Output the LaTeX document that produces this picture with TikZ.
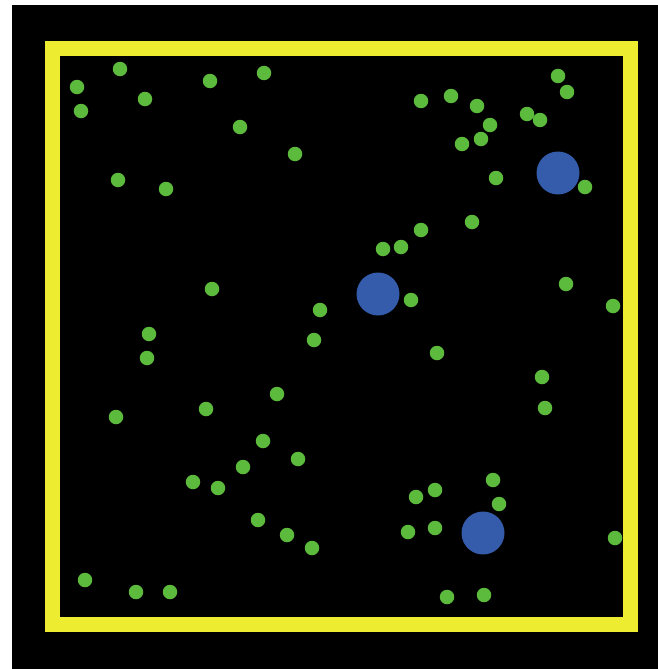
\documentclass[tikz,border=0pt]{standalone}
\definecolor{frameyellow}{RGB}{238,236,48}
\definecolor{dotgreen}{RGB}{92,186,60}
\definecolor{bigblue}{RGB}{52,92,170}
\tikzset{
  smalldot/.style={circle,fill=dotgreen,inner sep=0pt,minimum size=14.5pt},
  bigdot/.style={circle,fill=bigblue,inner sep=0pt,minimum size=43pt}
}
\begin{document}
\begin{tikzpicture}[x=1pt,y=-1pt]
  \useasboundingbox (0,0) rectangle (658,669);
  \fill[white] (0,0) rectangle (658,669);
  \fill[black] (12,5) rectangle (658,669);
  % yellow border
  \draw[frameyellow,line width=15pt] (52.5,48.5) rectangle (630,624.5);
  % green dots
  \foreach \x/\y [count=\i] in {120/69, 77/87, 81/111, 145/99, 210/81, 264/73,
      240/127, 295/154, 118/180, 166/189, 212/289, 320/310, 149/334, 314/340,
      558/76, 567/92, 421/101, 451/96, 477/106, 527/114, 540/120, 490/125,
      481/139, 462/144, 496/178, 585/187, 472/222, 421/230, 383/249, 401/247,
      411/300, 566/284, 613/306, 147/358, 277/394, 206/409, 116/417, 263/441,
      298/459, 243/467, 193/482, 218/488, 258/520, 287/535, 312/548, 85/580,
      136/592, 170/592, 437/353, 542/377, 545/408, 493/480, 435/490, 416/497,
      499/504, 408/532, 435/528, 615/538, 447/597, 484/595}
  {
    \node[smalldot] (g\i) at (\x,\y) {};
  }
  % blue dots
  \node[bigdot] (b1) at (558,173) {};
  \node[bigdot] (b2) at (378,294) {};
  \node[bigdot] (b3) at (483,533) {};
\end{tikzpicture}
\end{document}
